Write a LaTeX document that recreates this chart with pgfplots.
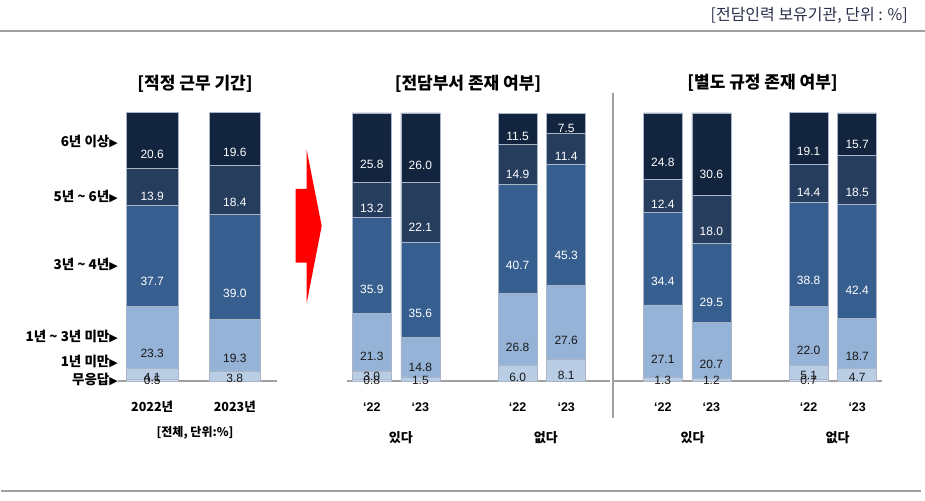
\documentclass[border=0pt]{standalone}
\usepackage{pgfplots}
\pgfplotsset{compat=1.18}
\usepackage{pgfplotstable}
\usepackage{fontspec}
\setmainfont{Liberation Sans}
\newfontfamily\kr{Noto Sans CJK KR}
\newfontfamily\sym{DejaVu Sans}
\definecolor{cA}{HTML}{12243E}
\definecolor{cB}{HTML}{263D5E}
\definecolor{cC}{HTML}{365E8E}
\definecolor{cD}{HTML}{95B2D7}
\definecolor{cE}{HTML}{B9CDE5}
\definecolor{cF}{HTML}{D0DDEE}
\definecolor{lineg}{HTML}{A0A0A0}
\definecolor{sepc}{HTML}{A9B4C6}
\definecolor{hdr}{HTML}{2A2F4A}

\pgfplotstableread{
x nr nrl lt1 y13 y34 y56 y6
0 0.5 0.5 4.1 23.3 37.7 13.9 20.6
1 0 -1 3.8 19.3 39.0 18.4 19.6
}\tA
\pgfplotstableread{
x nr nrl lt1 y13 y34 y56 y6
0 0.8 0.8 3.0 21.3 35.9 13.2 25.8
1 0 -1 1.5 14.8 35.6 22.1 26.0
3 0.0 0.0 6.0 26.8 40.7 14.9 11.5
4 0 -1 8.1 27.6 45.3 11.4 7.5
}\tB
\pgfplotstableread{
x nr nrl lt1 y13 y34 y56 y6
0 0 -1 1.3 27.1 34.4 12.4 24.8
1 0 -1 1.2 20.7 29.5 18.0 30.6
3 0.7 0.7 5.1 22.0 38.8 14.4 19.1
4 0 -1 4.7 18.7 42.4 18.5 15.7
}\tC

\pgfplotsset{
  base/.style={
    anchor=south west, scale only axis, height=268pt,
    ymin=0, ymax=100, ybar stacked, clip=false,
    axis x line=bottom, axis y line=none,
    axis line style={-, draw=lineg, line width=1.2pt},
    major tick length=0pt,
    xticklabel style={anchor=center, yshift=-26pt, text=black},
    point meta=explicit symbolic,
    nodes near coords={\ifdim\pgfplotspointmeta pt<0pt\else\pgfplotspointmeta\fi},
    every node near coord/.append style={anchor=center, yshift={-0.67pt*abs(\pgfplotspointmeta)},
      font=\fontsize{12}{14}\selectfont},
  },
  seg/.style={draw=sepc, line width=0.5pt},
  wl/.style={every node near coord/.append style={text=white}},
  bl/.style={every node near coord/.append style={text=black!90}},
}

\newcommand\stack[1]{%
  \addplot[seg, bl, fill=cF] table[x=x,y=nr,meta=nrl]{#1};
  \addplot[seg, bl, fill=cE] table[x=x,y=lt1,meta=lt1]{#1};
  \addplot[seg, bl, fill=cD] table[x=x,y=y13,meta=y13]{#1};
  \addplot[seg, wl, fill=cC] table[x=x,y=y34,meta=y34]{#1};
  \addplot[seg, wl, fill=cB] table[x=x,y=y56,meta=y56]{#1};
  \addplot[seg, wl, fill=cA] table[x=x,y=y6,meta=y6]{#1};
}

\begin{document}
\begin{tikzpicture}[x=1pt,y=1pt]
\useasboundingbox (0,0) rectangle (925,500);

% header
\node[anchor=east, text=hdr, inner sep=0pt] at (908,485) {\fontsize{16}{18}\kr [전담인력 보유기관, 단위 : \%]};
\draw[lineg, line width=1.3pt] (0,469) -- (925,469);
\draw[lineg, line width=1.3pt] (1,9) -- (921,9);

% titles
\node[inner sep=0pt] at (195,416) {\fontsize{17}{20}\kr\bfseries [적정 근무 기간]};
\node[inner sep=0pt] at (468,416) {\fontsize{17}{20}\kr\bfseries [전담부서 존재 여부]};
\node[inner sep=0pt] at (762.5,417) {\fontsize{17}{20}\kr\bfseries [별도 규정 존재 여부]};

% separator
\draw[lineg, line width=1.5pt] (613,407) -- (613,82);

% arrow
\fill[red] (295.7,311) -- (306.7,311) -- (306.7,350) -- (321.7,274) -- (306.7,197) -- (306.7,237.3) -- (295.7,237.3) -- cycle;

% chart 1
\begin{axis}[base, at={(118pt,119pt)}, width=159pt, bar width=51.5pt,
  xmin=-0.414, xmax=1.511, xtick={0,1}, xticklabels={2022년,2023년},
  xticklabel style={font=\fontsize{12.5}{14}\kr\bfseries}]
\stack{\tA}
\end{axis}

% row labels
\begin{scope}[every node/.style={anchor=east, inner sep=0pt, font=\fontsize{13.5}{15}\kr\bfseries}]
\node at (118,358.3) {6년 이상{\sym\fontsize{11}{12}\selectfont ▶}};
\node at (118,303.3) {5년 \textasciitilde{} 6년{\sym\fontsize{11}{12}\selectfont ▶}};
\node at (118,236) {3년 \textasciitilde{} 4년{\sym\fontsize{11}{12}\selectfont ▶}};
\node at (118,163.3) {1년 \textasciitilde{} 3년 미만{\sym\fontsize{11}{12}\selectfont ▶}};
\node at (118,139) {1년 미만{\sym\fontsize{11}{12}\selectfont ▶}};
\node at (118,120.7) {무응답{\sym\fontsize{11}{12}\selectfont ▶}};
\end{scope}
\node[inner sep=0pt] at (195,67.3) {\fontsize{12}{14}\kr\bfseries [전체, 단위:\%]};

% chart 2
\begin{axis}[base, at={(347pt,119pt)}, width=263pt, bar width=39pt,
  xmin=-0.5103, xmax=4.9012, xtick={0,1,3,4}, xticklabels={‘22,‘23,‘22,‘23},
  xticklabel style={font=\fontsize{12.5}{14}\selectfont\bfseries}]
\stack{\tB}
\end{axis}

% chart 3
\begin{axis}[base, at={(613pt,119pt)}, width=269pt, bar width=39pt,
  xmin=-1.0247, xmax=4.5103, xtick={0,1,3,4}, xticklabels={‘22,‘23,‘22,‘23},
  xticklabel style={font=\fontsize{12.5}{14}\selectfont\bfseries}]
\stack{\tC}
\end{axis}

\begin{scope}[every node/.style={inner sep=0pt, font=\fontsize{13}{15}\kr\bfseries}]
\node at (400.8,62) {있다};
\node at (545.8,62) {없다};
\node at (692.5,62) {있다};
\node at (837.5,62) {없다};
\end{scope}
\end{tikzpicture}
\end{document}
